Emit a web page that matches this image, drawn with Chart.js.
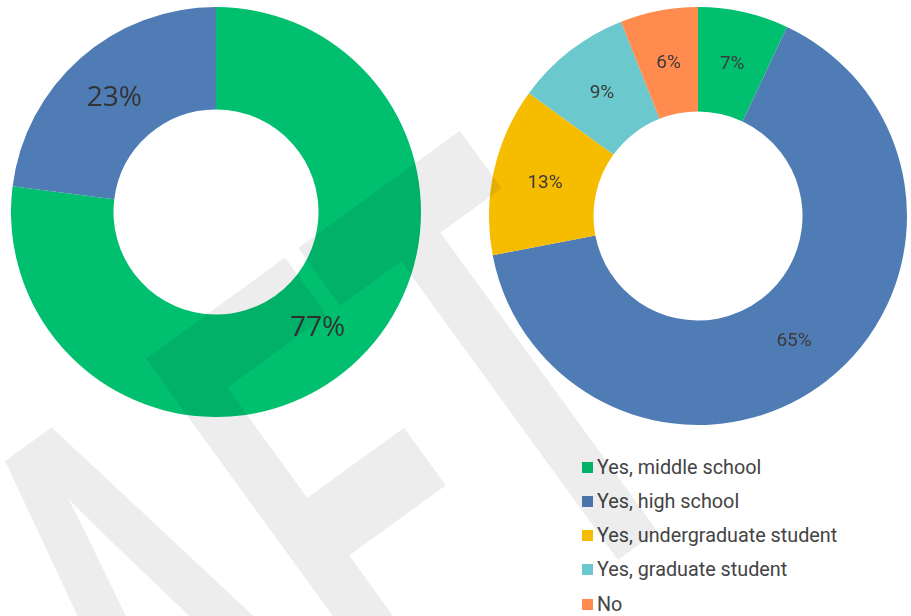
<!DOCTYPE html>
<html>
<head>
<meta charset="utf-8">
<script src="https://cdn.jsdelivr.net/npm/chart.js@4.4.1/dist/chart.umd.min.js"></script>
<style>
  html, body { margin: 0; padding: 0; background: #fff; }
  #page { position: relative; width: 911px; height: 616px; overflow: hidden; }
  #leftChart { position: absolute; left: 11px; top: 7px; }
  #rightChart { position: absolute; left: 489px; top: 7px; }
  #legend { position: absolute; left: 582px; top: 450px; margin: 0; padding: 0; list-style: none;
            font-family: Roboto, sans-serif; font-size: 19.8px; color: #444; }
  #legend li { display: flex; align-items: center; height: 34.25px; white-space: nowrap; }
  #legend span.box { display: inline-block; width: 11px; height: 11px; margin-right: 4px; }
  #wm { position: absolute; left: 0; top: 0; pointer-events: none; }
</style>
</head>
<body>
<div id="page">
  <canvas id="leftChart" width="410" height="410"></canvas>
  <canvas id="rightChart" width="418" height="418"></canvas>
  <ul id="legend"></ul>
  <canvas id="wm" width="911" height="616"></canvas>
</div>
<script>
// left ring: share of respondents (two groups)
var leftValues = [77, 23];
var leftColors = ['#00BF6F', '#507CB6'];

// right ring: level of study
var levels = ['Yes, middle school', 'Yes, high school', 'Yes, undergraduate student', 'Yes, graduate student', 'No'];
var levelValues = [7, 65, 13, 9, 6];
var levelColors = ['#00BF6F', '#507CB6', '#F5BC00', '#6BC8CD', '#FF8B4F'];

// writes "NN%" in the middle of every slice
var pctLabels = {
    id: 'pctLabels',
    afterDatasetsDraw: function (chart, args, opts) {
        var ctx = chart.ctx;
        var meta = chart.getDatasetMeta(0);
        var data = chart.data.datasets[0].data;
        ctx.save();
        ctx.font = opts.font;
        ctx.fillStyle = opts.color;
        ctx.textAlign = 'center';
        ctx.textBaseline = 'middle';
        meta.data.forEach(function (arc, i) {
            var p = arc.tooltipPosition();
            ctx.fillText(data[i] + '%', p.x, p.y + (opts.dy || 0));
        });
        ctx.restore();
    }
};

// html legend, one row per slice
var htmlLegend = {
    id: 'htmlLegend',
    afterUpdate: function (chart) {
        var ul = document.getElementById('legend');
        ul.innerHTML = '';
        var items = chart.options.plugins.legend.labels.generateLabels(chart);
        items.forEach(function (item) {
            var li = document.createElement('li');
            var box = document.createElement('span');
            box.className = 'box';
            box.style.background = item.fillStyle;
            li.appendChild(box);
            li.appendChild(document.createTextNode(item.text));
            ul.appendChild(li);
        });
    }
};

new Chart(document.getElementById('leftChart'), {
    type: 'doughnut',
    data: {
        labels: ['', ''],
        datasets: [{
            data: leftValues,
            backgroundColor: leftColors,
            borderWidth: 0
        }]
    },
    options: {
        responsive: false,
        animation: false,
        cutout: '50%',
        plugins: {
            legend: { display: false },
            tooltip: { enabled: false },
            pctLabels: { font: '28px "Open Sans"', color: '#333333', dy: 1 }
        }
    },
    plugins: [pctLabels]
});

new Chart(document.getElementById('rightChart'), {
    type: 'doughnut',
    data: {
        labels: levels,
        datasets: [{
            data: levelValues,
            backgroundColor: levelColors,
            borderWidth: 0
        }]
    },
    options: {
        responsive: false,
        animation: false,
        cutout: '50%',
        plugins: {
            legend: { display: false },
            tooltip: { enabled: false },
            pctLabels: { font: '19px Roboto', color: '#3a3a3a', dy: 1 }
        }
    },
    plugins: [pctLabels, htmlLegend]
});

// faint "DRAFT" stamp across the page, tall and narrow
var wm = document.getElementById('wm').getContext('2d');
var fs = 640;
wm.fillStyle = 'rgba(0, 0, 0, 0.07)';
wm.font = 'bold ' + fs + 'px "Liberation Sans"';
wm.translate(137, 343);               // top-left corner of the F stem
wm.rotate(-36 * Math.PI / 180);
wm.scale(0.53, 1);
var lead = wm.measureText('DRA').width + 0.073 * fs;
wm.fillText('DRAFT', -lead, 0.716 * fs);
</script>
</body>
</html>
